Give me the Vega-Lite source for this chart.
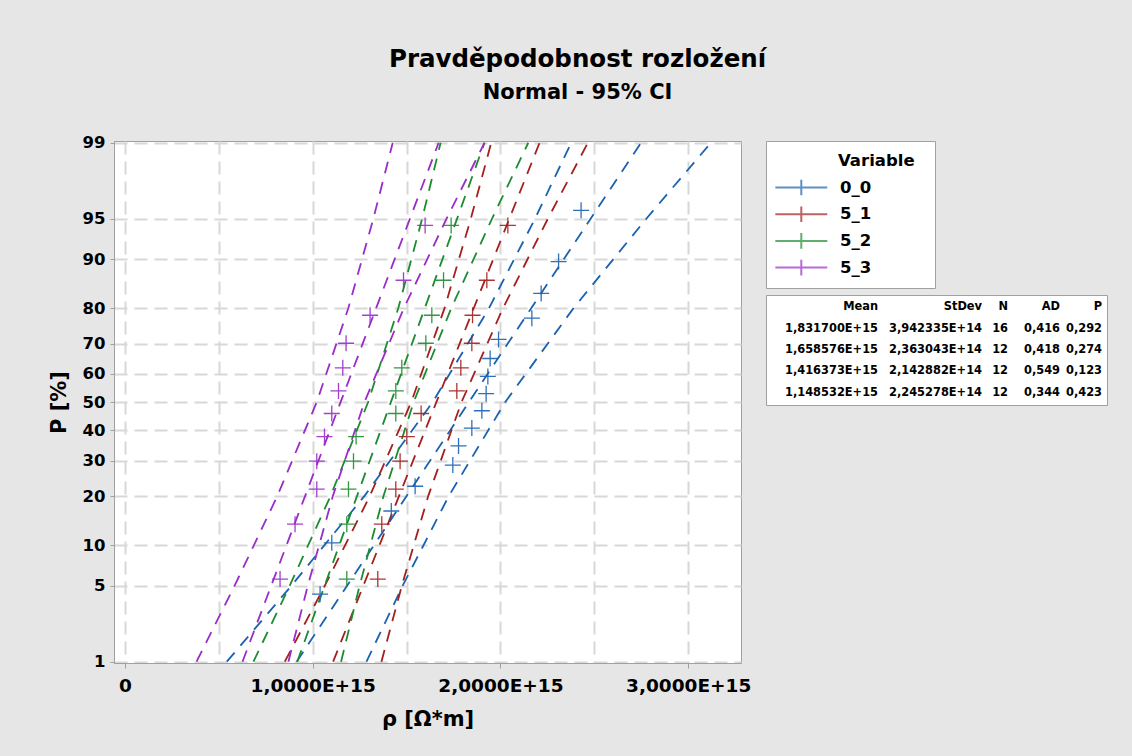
{
  "$schema": "https://vega.github.io/schema/vega-lite/v6.json",
  "background": "#e6e6e6",
  "padding": {"left": 47, "right": 26, "top": 46, "bottom": 27},
  "title": {
    "text": "Pravděpodobnost rozložení",
    "subtitle": "Normal - 95% CI",
    "anchor": "middle",
    "font": "DejaVu Sans", "fontSize": 24.5, "fontWeight": "bold", "color": "black",
    "subtitleFont": "DejaVu Sans", "subtitleFontSize": 21, "subtitleFontWeight": "bold", "subtitleColor": "black",
    "subtitlePadding": 10,
    "offset": 30
  },
  "datasets": {
    "lines": [
      {"variable": "0_0", "band": "lower", "p": 1, "z": -2.3263, "rho": 5.4269e14},
      {"variable": "0_0", "band": "lower", "p": 5, "z": -1.6449, "rho": 8.8690e14},
      {"variable": "0_0", "band": "lower", "p": 20, "z": -0.8416, "rho": 1.27514e15},
      {"variable": "0_0", "band": "lower", "p": 50, "z": 0, "rho": 1.63853e15},
      {"variable": "0_0", "band": "lower", "p": 80, "z": 0.8416, "rho": 1.93870e15},
      {"variable": "0_0", "band": "lower", "p": 95, "z": 1.6449, "rho": 2.18384e15},
      {"variable": "0_0", "band": "lower", "p": 99, "z": 2.3263, "rho": 2.37691e15},
      {"variable": "0_0", "band": "upper", "p": 1, "z": -2.3263, "rho": 1.28649e15},
      {"variable": "0_0", "band": "upper", "p": 5, "z": -1.6449, "rho": 1.47956e15},
      {"variable": "0_0", "band": "upper", "p": 20, "z": -0.8416, "rho": 1.72470e15},
      {"variable": "0_0", "band": "upper", "p": 50, "z": 0, "rho": 2.02487e15},
      {"variable": "0_0", "band": "upper", "p": 80, "z": 0.8416, "rho": 2.38826e15},
      {"variable": "0_0", "band": "upper", "p": 95, "z": 1.6449, "rho": 2.77650e15},
      {"variable": "0_0", "band": "upper", "p": 99, "z": 2.3263, "rho": 3.12071e15},
      {"variable": "0_0", "band": "fit", "p": 1, "z": -2.3263, "rho": 9.1459e14},
      {"variable": "0_0", "band": "fit", "p": 99, "z": 2.3263, "rho": 2.74881e15},

      {"variable": "5_1", "band": "lower", "p": 1, "z": -2.3263, "rho": 8.5148e14},
      {"variable": "5_1", "band": "lower", "p": 5, "z": -1.6449, "rho": 1.06479e15},
      {"variable": "5_1", "band": "lower", "p": 20, "z": -0.8416, "rho": 1.30414e15},
      {"variable": "5_1", "band": "lower", "p": 50, "z": 0, "rho": 1.52487e15},
      {"variable": "5_1", "band": "lower", "p": 80, "z": 0.8416, "rho": 1.70188e15},
      {"variable": "5_1", "band": "lower", "p": 95, "z": 1.6449, "rho": 1.84219e15},
      {"variable": "5_1", "band": "lower", "p": 99, "z": 2.3263, "rho": 1.95092e15},
      {"variable": "5_1", "band": "upper", "p": 1, "z": -2.3263, "rho": 1.36624e15},
      {"variable": "5_1", "band": "upper", "p": 5, "z": -1.6449, "rho": 1.47497e15},
      {"variable": "5_1", "band": "upper", "p": 20, "z": -0.8416, "rho": 1.61528e15},
      {"variable": "5_1", "band": "upper", "p": 50, "z": 0, "rho": 1.79229e15},
      {"variable": "5_1", "band": "upper", "p": 80, "z": 0.8416, "rho": 2.01302e15},
      {"variable": "5_1", "band": "upper", "p": 95, "z": 1.6449, "rho": 2.25237e15},
      {"variable": "5_1", "band": "upper", "p": 99, "z": 2.3263, "rho": 2.46568e15},
      {"variable": "5_1", "band": "fit", "p": 1, "z": -2.3263, "rho": 1.10886e15},
      {"variable": "5_1", "band": "fit", "p": 99, "z": 2.3263, "rho": 2.20830e15},

      {"variable": "5_2", "band": "lower", "p": 1, "z": -2.3263, "rho": 6.8447e14},
      {"variable": "5_2", "band": "lower", "p": 5, "z": -1.6449, "rho": 8.7791e14},
      {"variable": "5_2", "band": "lower", "p": 20, "z": -0.8416, "rho": 1.09494e15},
      {"variable": "5_2", "band": "lower", "p": 50, "z": 0, "rho": 1.29511e15},
      {"variable": "5_2", "band": "lower", "p": 80, "z": 0.8416, "rho": 1.45564e15},
      {"variable": "5_2", "band": "lower", "p": 95, "z": 1.6449, "rho": 1.58287e15},
      {"variable": "5_2", "band": "lower", "p": 99, "z": 2.3263, "rho": 1.68147e15},
      {"variable": "5_2", "band": "upper", "p": 1, "z": -2.3263, "rho": 1.15127e15},
      {"variable": "5_2", "band": "upper", "p": 5, "z": -1.6449, "rho": 1.24987e15},
      {"variable": "5_2", "band": "upper", "p": 20, "z": -0.8416, "rho": 1.37710e15},
      {"variable": "5_2", "band": "upper", "p": 50, "z": 0, "rho": 1.53763e15},
      {"variable": "5_2", "band": "upper", "p": 80, "z": 0.8416, "rho": 1.73780e15},
      {"variable": "5_2", "band": "upper", "p": 95, "z": 1.6449, "rho": 1.95483e15},
      {"variable": "5_2", "band": "upper", "p": 99, "z": 2.3263, "rho": 2.14827e15},
      {"variable": "5_2", "band": "fit", "p": 1, "z": -2.3263, "rho": 9.1787e14},
      {"variable": "5_2", "band": "fit", "p": 99, "z": 2.3263, "rho": 1.91487e15},

      {"variable": "5_3", "band": "lower", "p": 1, "z": -2.3263, "rho": 3.8166e14},
      {"variable": "5_3", "band": "lower", "p": 5, "z": -1.6449, "rho": 5.8433e14},
      {"variable": "5_3", "band": "lower", "p": 20, "z": -0.8416, "rho": 8.1175e14},
      {"variable": "5_3", "band": "lower", "p": 50, "z": 0, "rho": 1.02148e15},
      {"variable": "5_3", "band": "lower", "p": 80, "z": 0.8416, "rho": 1.18967e15},
      {"variable": "5_3", "band": "lower", "p": 95, "z": 1.6449, "rho": 1.32299e15},
      {"variable": "5_3", "band": "lower", "p": 99, "z": 2.3263, "rho": 1.42630e15},
      {"variable": "5_3", "band": "upper", "p": 1, "z": -2.3263, "rho": 8.7076e14},
      {"variable": "5_3", "band": "upper", "p": 5, "z": -1.6449, "rho": 9.7407e14},
      {"variable": "5_3", "band": "upper", "p": 20, "z": -0.8416, "rho": 1.10739e15},
      {"variable": "5_3", "band": "upper", "p": 50, "z": 0, "rho": 1.27558e15},
      {"variable": "5_3", "band": "upper", "p": 80, "z": 0.8416, "rho": 1.48531e15},
      {"variable": "5_3", "band": "upper", "p": 95, "z": 1.6449, "rho": 1.71273e15},
      {"variable": "5_3", "band": "upper", "p": 99, "z": 2.3263, "rho": 1.91540e15},
      {"variable": "5_3", "band": "fit", "p": 1, "z": -2.3263, "rho": 6.2621e14},
      {"variable": "5_3", "band": "fit", "p": 99, "z": 2.3263, "rho": 1.67085e15}
    ],
    "points": [
      {"variable": "0_0", "p": 4.27, "z": -1.7207, "rho": 1.0394e15},
      {"variable": "0_0", "p": 10.37, "z": -1.2609, "rho": 1.1018e15},
      {"variable": "0_0", "p": 16.46, "z": -0.9752, "rho": 1.4188e15},
      {"variable": "0_0", "p": 22.56, "z": -0.7534, "rho": 1.5456e15},
      {"variable": "0_0", "p": 28.66, "z": -0.5631, "rho": 1.7464e15},
      {"variable": "0_0", "p": 34.76, "z": -0.3918, "rho": 1.7768e15},
      {"variable": "0_0", "p": 40.85, "z": -0.2314, "rho": 1.8476e15},
      {"variable": "0_0", "p": 46.95, "z": -0.0765, "rho": 1.9009e15},
      {"variable": "0_0", "p": 53.05, "z": 0.0765, "rho": 1.9238e15},
      {"variable": "0_0", "p": 59.15, "z": 0.2314, "rho": 1.9329e15},
      {"variable": "0_0", "p": 65.24, "z": 0.3918, "rho": 1.9451e15},
      {"variable": "0_0", "p": 71.34, "z": 0.5631, "rho": 1.9899e15},
      {"variable": "0_0", "p": 77.44, "z": 0.7534, "rho": 2.1673e15},
      {"variable": "0_0", "p": 83.54, "z": 0.9752, "rho": 2.2168e15},
      {"variable": "0_0", "p": 89.63, "z": 1.2609, "rho": 2.3095e15},
      {"variable": "0_0", "p": 95.73, "z": 1.7207, "rho": 2.4294e15},

      {"variable": "5_1", "p": 5.65, "z": -1.5855, "rho": 1.3468e15},
      {"variable": "5_1", "p": 13.71, "z": -1.0934, "rho": 1.3681e15},
      {"variable": "5_1", "p": 21.77, "z": -0.7797, "rho": 1.4427e15},
      {"variable": "5_1", "p": 29.84, "z": -0.5285, "rho": 1.4656e15},
      {"variable": "5_1", "p": 37.90, "z": -0.3082, "rho": 1.5013e15},
      {"variable": "5_1", "p": 45.97, "z": -0.1013, "rho": 1.5775e15},
      {"variable": "5_1", "p": 54.03, "z": 0.1013, "rho": 1.7677e15},
      {"variable": "5_1", "p": 62.10, "z": 0.3082, "rho": 1.7890e15},
      {"variable": "5_1", "p": 70.16, "z": 0.5285, "rho": 1.8476e15},
      {"variable": "5_1", "p": 78.23, "z": 0.7797, "rho": 1.8514e15},
      {"variable": "5_1", "p": 86.29, "z": 1.0934, "rho": 1.9275e15},
      {"variable": "5_1", "p": 94.35, "z": 1.5855, "rho": 2.0394e15},

      {"variable": "5_2", "p": 5.65, "z": -1.5855, "rho": 1.1817e15},
      {"variable": "5_2", "p": 13.71, "z": -1.0934, "rho": 1.1817e15},
      {"variable": "5_2", "p": 21.77, "z": -0.7797, "rho": 1.1907e15},
      {"variable": "5_2", "p": 29.84, "z": -0.5285, "rho": 1.2174e15},
      {"variable": "5_2", "p": 37.90, "z": -0.3082, "rho": 1.2312e15},
      {"variable": "5_2", "p": 45.97, "z": -0.1013, "rho": 1.4427e15},
      {"variable": "5_2", "p": 54.03, "z": 0.1013, "rho": 1.4427e15},
      {"variable": "5_2", "p": 62.10, "z": 0.3082, "rho": 1.4747e15},
      {"variable": "5_2", "p": 70.16, "z": 0.5285, "rho": 1.6026e15},
      {"variable": "5_2", "p": 78.23, "z": 0.7797, "rho": 1.6345e15},
      {"variable": "5_2", "p": 86.29, "z": 1.0934, "rho": 1.6969e15},
      {"variable": "5_2", "p": 94.35, "z": 1.5855, "rho": 1.7374e15},

      {"variable": "5_3", "p": 5.65, "z": -1.5855, "rho": 8.263e14},
      {"variable": "5_3", "p": 13.71, "z": -1.0934, "rho": 9.062e14},
      {"variable": "5_3", "p": 21.77, "z": -0.7797, "rho": 1.0218e15},
      {"variable": "5_3", "p": 29.84, "z": -0.5285, "rho": 1.0218e15},
      {"variable": "5_3", "p": 37.90, "z": -0.3082, "rho": 1.0629e15},
      {"variable": "5_3", "p": 45.97, "z": -0.1013, "rho": 1.1018e15},
      {"variable": "5_3", "p": 54.03, "z": 0.1013, "rho": 1.1375e15},
      {"variable": "5_3", "p": 62.10, "z": 0.3082, "rho": 1.1604e15},
      {"variable": "5_3", "p": 70.16, "z": 0.5285, "rho": 1.1779e15},
      {"variable": "5_3", "p": 78.23, "z": 0.7797, "rho": 1.3058e15},
      {"variable": "5_3", "p": 86.29, "z": 1.0934, "rho": 1.4838e15},
      {"variable": "5_3", "p": 94.35, "z": 1.5855, "rho": 1.5988e15}
    ],
    "table": [
      {"row": 0, "col": 1, "text": "Mean"},
      {"row": 0, "col": 2, "text": "StDev"},
      {"row": 0, "col": 3, "text": "N"},
      {"row": 0, "col": 4, "text": "AD"},
      {"row": 0, "col": 5, "text": "P"},
      {"row": 1, "col": 1, "text": "1,831700E+15"},
      {"row": 1, "col": 2, "text": "3,942335E+14"},
      {"row": 1, "col": 3, "text": "16"},
      {"row": 1, "col": 4, "text": "0,416"},
      {"row": 1, "col": 5, "text": "0,292"},
      {"row": 2, "col": 1, "text": "1,658576E+15"},
      {"row": 2, "col": 2, "text": "2,363043E+14"},
      {"row": 2, "col": 3, "text": "12"},
      {"row": 2, "col": 4, "text": "0,418"},
      {"row": 2, "col": 5, "text": "0,274"},
      {"row": 3, "col": 1, "text": "1,416373E+15"},
      {"row": 3, "col": 2, "text": "2,142882E+14"},
      {"row": 3, "col": 3, "text": "12"},
      {"row": 3, "col": 4, "text": "0,549"},
      {"row": 3, "col": 5, "text": "0,123"},
      {"row": 4, "col": 1, "text": "1,148532E+15"},
      {"row": 4, "col": 2, "text": "2,245278E+14"},
      {"row": 4, "col": 3, "text": "12"},
      {"row": 4, "col": 4, "text": "0,344"},
      {"row": 4, "col": 5, "text": "0,423"}
    ]
  },
  "bounds": "flush",
  "spacing": 25,
  "resolve": {"scale": {"color": "independent"}, "legend": {"color": "independent"}},
  "hconcat": [
    {
      "width": 627,
      "height": 522,
      "view": {"fill": "white", "stroke": "#a0a0a0", "strokeWidth": 1},
      "encoding": {
        "x": {
          "field": "rho", "type": "quantitative", "title": "ρ [Ω*m]",
          "scale": {"domain": [-5.8e13, 3.281e15], "nice": false, "zero": false},
          "axis": {
            "values": [0, 5e14, 1e15, 1.5e15, 2e15, 2.5e15, 3e15],
            "labelExpr": "datum.value == 0 ? '0' : (datum.value % 1e15 == 0 ? replace(format(datum.value / 1e15, '.4f'), '.', ',') + 'E+15' : '')",
            "grid": true, "gridColor": "#d8d8d8", "gridDash": [13, 7], "gridWidth": 2,
            "domainColor": "#a0a0a0",
            "tickColor": "#a0a0a0", "tickSize": 5,
            "tickOpacity": {"condition": {"test": "datum.value % 1e15 == 0", "value": 1}, "value": 0},
            "labelPadding": 8, "labelFont": "DejaVu Sans", "labelFontSize": 18.5, "labelFontWeight": "bold", "labelColor": "black",
            "labelFlush": false, "labelOverlap": false,
            "titleFont": "DejaVu Sans", "titleFontSize": 21, "titleFontWeight": "bold", "titleColor": "black", "titlePadding": 14
          }
        },
        "y": {
          "field": "z", "type": "quantitative", "title": "P [%]",
          "scale": {"domain": [-2.338, 2.342], "nice": false, "zero": false},
          "axis": {
            "values": [-2.3263, -1.6449, -1.2816, -0.8416, -0.5244, -0.2533, 0, 0.2533, 0.5244, 0.8416, 1.2816, 1.6449, 2.3263],
            "labelExpr": "format(cumulativeNormal(datum.value) * 100, '.0f')",
            "grid": true, "gridColor": "#d8d8d8", "gridDash": [13, 7], "gridWidth": 2,
            "domainColor": "#a0a0a0",
            "tickColor": "#a0a0a0", "tickSize": 4,
            "labelPadding": 5, "labelFont": "DejaVu Sans", "labelFontSize": 16.5, "labelFontWeight": "bold", "labelColor": "black",
            "labelFlush": false, "labelOverlap": false,
            "titleFont": "DejaVu Sans", "titleFontSize": 21, "titleFontWeight": "bold", "titleColor": "black", "titlePadding": 13
          }
        },
        "color": {
          "field": "variable", "type": "nominal",
          "scale": {"domain": ["0_0", "5_1", "5_2", "5_3"], "range": ["#1a62b0", "#a3201f", "#1c8c30", "#9a2cc8"]},
          "legend": null
        }
      },
      "layer": [
        {
          "data": {"name": "lines"},
          "mark": {"type": "line", "strokeWidth": 1.8, "strokeDash": [12, 9], "clip": true},
          "encoding": {
            "detail": {"field": "band", "type": "nominal"},
            "order": {"field": "z", "type": "quantitative"}
          }
        },
        {
          "data": {"name": "points"},
          "mark": {"type": "point", "shape": "M-1,0H1M0,-1V1", "size": 256, "filled": false, "strokeWidth": 1.3, "opacity": 0.9, "clip": true}
        }
      ]
    },
    {
      "vconcat": [
        {
          "width": 169,
          "height": 147,
          "view": {"fill": "white", "stroke": "#a0a0a0", "strokeWidth": 1},
          "data": {"values": []},
          "mark": {"type": "point", "shape": "M-3,0H3M0,-0.9V0.9", "filled": false},
          "encoding": {
            "color": {
              "field": "variable", "type": "nominal",
              "scale": {"domain": ["0_0", "5_1", "5_2", "5_3"], "range": ["#1a62b0", "#a3201f", "#1c8c30", "#9a2cc8"]},
              "legend": {
                "title": "Variable",
                "orient": "none", "legendX": 72, "legendY": 12,
                "padding": 0,
                "titleFont": "DejaVu Sans", "titleFontSize": 16.5, "titleFontWeight": "bold", "titleColor": "black", "titlePadding": 8,
                "labelFont": "DejaVu Sans", "labelFontSize": 16.5, "labelFontWeight": "bold", "labelColor": "black",
                "symbolType": "M-3,0H3M0,-0.9V0.9", "symbolSize": 300, "symbolStrokeWidth": 2,
                "symbolFillColor": "transparent", "symbolOffset": -46.7, "labelOffset": 28.7,
                "rowPadding": 2.7
              }
            }
          }
        },
        {
          "width": 341,
          "height": 110,
          "view": {"fill": "white", "stroke": "#a0a0a0", "strokeWidth": 1},
          "data": {"name": "table"},
          "mark": {"type": "text", "align": "right", "baseline": "middle", "font": "DejaVu Sans", "fontSize": 11.4, "fontWeight": "bold", "color": "black"},
          "encoding": {
            "x": {"field": "col", "type": "quantitative", "scale": {"domain": [1, 2, 3, 4, 5], "range": [112, 216, 242, 294, 336]}, "axis": null},
            "y": {"field": "row", "type": "ordinal", "scale": {"type": "point", "padding": 0.588}, "axis": null},
            "text": {"field": "text"}
          }
        }
      ],
      "spacing": 7,
      "bounds": "flush",
      "resolve": {"scale": {"color": "independent"}, "legend": {"color": "independent"}}
    }
  ]
}
